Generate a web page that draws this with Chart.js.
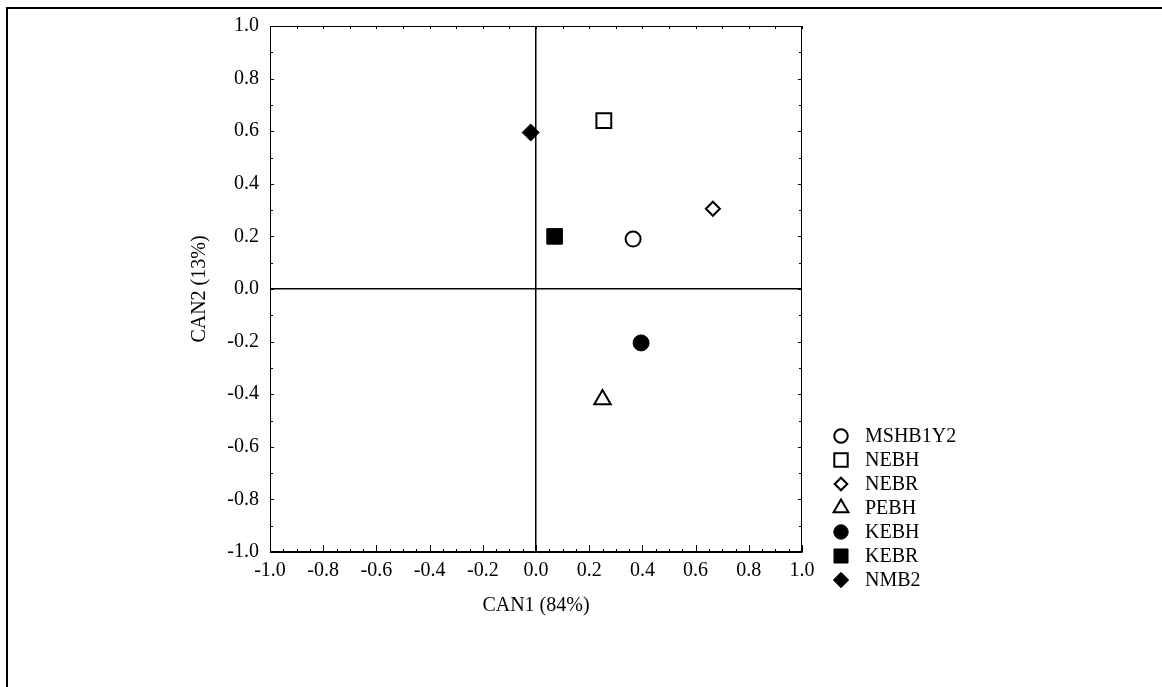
<!DOCTYPE html>
<html>
<head>
<meta charset="utf-8">
<script src="https://cdn.jsdelivr.net/npm/chart.js@4.4.1/dist/chart.umd.min.js"></script>
<style>
    html, body { margin: 0; padding: 0; background: #fff; }
    #wrap { position: relative; width: 1162px; height: 687px; }
    #frame { position: absolute; left: 6px; top: 7px; right: 0; bottom: 0; border-left: 2px solid #000; border-top: 2px solid #000; pointer-events: none; }
</style>
</head>
<body>
<div id="wrap">
    <canvas id="myChart" width="1162" height="687"></canvas>
    <div id="frame"></div>
</div>
<script>
const groups = ['MSHB1Y2', 'NEBH', 'NEBR', 'PEBH', 'KEBH', 'KEBR', 'NMB2']
const can1 = [0.365, 0.255, 0.665, 0.25, 0.395, 0.07, -0.02]
const can2 = [0.19, 0.64, 0.305, -0.42, -0.205, 0.20, 0.595]
const markerShapes = ['circle', 'rect', 'rectRot', 'triangle', 'circle', 'rect', 'rectRot']
const markerFilled = [false, false, false, false, true, true, true]
const markerSizes = [7.5, 10.5, 7, 9.5, 8, 11, 8.5]
const axisTicks = [-1.0, -0.8, -0.6, -0.4, -0.2, 0.0, 0.2, 0.4, 0.6, 0.8, 1.0]

const serif = '"Liberation Serif", "Times New Roman", serif'

const datasets = groups.map((name, i) => ({
    label: name,
    data: [{ x: can1[i], y: can2[i] }],
    pointStyle: markerShapes[i],
    pointRadius: markerSizes[i],
    pointHoverRadius: markerSizes[i],
    pointBorderWidth: markerFilled[i] ? 1 : 2,
    pointBorderColor: '#000',
    pointBackgroundColor: markerFilled[i] ? '#000' : '#fff'
}))

// inward tick marks on all four sides, placed by the scales
const innerTicks = {
    id: 'innerTicks',
    afterDatasetsDraw(chart) {
        const ctx = chart.ctx
        const xs = chart.scales.x
        const ys = chart.scales.y
        const area = chart.chartArea
        ctx.save()
        ctx.strokeStyle = '#000'
        ctx.lineWidth = 1
        ctx.beginPath()
        for (let i = -20; i <= 20; i++) {
            const px = Math.round(xs.getPixelForValue(i / 20)) + 0.5
            const len = i % 4 === 0 ? 7 : 3
            ctx.moveTo(px, area.bottom)
            ctx.lineTo(px, area.bottom - len)
        }
        for (let i = -10; i <= 10; i++) {
            const px = Math.round(xs.getPixelForValue(i / 10)) + 0.5
            ctx.moveTo(px, area.top)
            ctx.lineTo(px, area.top + 3)
            const py = Math.round(ys.getPixelForValue(i / 10)) + 0.5
            const len = i % 2 === 0 ? 4 : 3
            ctx.moveTo(area.left, py)
            ctx.lineTo(area.left + len, py)
            ctx.moveTo(area.right, py)
            ctx.lineTo(area.right - len, py)
        }
        ctx.stroke()
        ctx.strokeRect(area.left + 0.5, area.top + 0.5, area.right - area.left - 1, area.bottom - area.top - 1)
        ctx.restore()
    }
}

// legend drawn beside the plot, one row per group
const sideLegend = {
    id: 'sideLegend',
    afterDraw(chart) {
        const ctx = chart.ctx
        const x0 = chart.chartArea.right + 39
        const y0 = 436
        ctx.save()
        ctx.font = '20px ' + serif
        ctx.textBaseline = 'middle'
        ctx.textAlign = 'left'
        chart.data.datasets.forEach((ds, i) => {
            const y = y0 + i * 24
            ctx.fillStyle = ds.pointBackgroundColor
            ctx.strokeStyle = '#000'
            ctx.lineWidth = ds.pointBorderWidth
            Chart.helpers.drawPoint(ctx, {
                pointStyle: ds.pointStyle,
                radius: ds.pointRadius * 0.9,
                borderWidth: ds.pointBorderWidth,
                rotation: 0
            }, x0, y)
            ctx.fillStyle = '#000'
            ctx.fillText(ds.label, x0 + 24, y + 1)
        })
        ctx.restore()
    }
}

const zeroLine = (c) => c.tick && c.tick.value === 0 ? '#000' : 'rgba(0,0,0,0)'

const ctx = document.getElementById('myChart').getContext('2d')
const myChart = new Chart(ctx, {
    type: 'scatter',
    data: { datasets },
    options: {
        responsive: false,
        animation: false,
        layout: { padding: { left: 0, top: 26, right: 360, bottom: 55 } },
        plugins: {
            legend: { display: false },
            tooltip: { enabled: false }
        },
        scales: {
            x: {
                min: -1, max: 1,
                afterBuildTicks(scale) { scale.ticks = axisTicks.map(v => ({ value: v })) },
                afterFit(scale) { scale.height = 80 },
                ticks: {
                    color: '#000',
                    font: { family: serif, size: 20 },
                    padding: 7,
                    maxRotation: 0,
                    autoSkip: false,
                    callback: v => v.toFixed(1)
                },
                grid: { color: zeroLine, lineWidth: 1.5, drawTicks: false },
                border: { display: true, color: '#000', width: 1 },
                title: {
                    display: true, text: 'CAN1 (84%)', color: '#000',
                    font: { family: serif, size: 20 },
                    padding: { top: 0, bottom: 14 }
                }
            },
            y: {
                min: -1, max: 1,
                afterBuildTicks(scale) { scale.ticks = axisTicks.map(v => ({ value: v })) },
                afterFit(scale) { scale.width = 270 },
                ticks: {
                    color: '#000',
                    font: { family: serif, size: 20 },
                    padding: 11,
                    autoSkip: false,
                    callback: v => v.toFixed(1)
                },
                grid: { color: zeroLine, lineWidth: 1.5, drawTicks: false },
                border: { display: true, color: '#000', width: 1 },
                title: {
                    display: true, text: 'CAN2 (13%)', color: '#000',
                    font: { family: serif, size: 20 },
                    padding: { top: 188, bottom: 0 }
                }
            }
        }
    },
    plugins: [innerTicks, sideLegend]
})
</script>
</body>
</html>
